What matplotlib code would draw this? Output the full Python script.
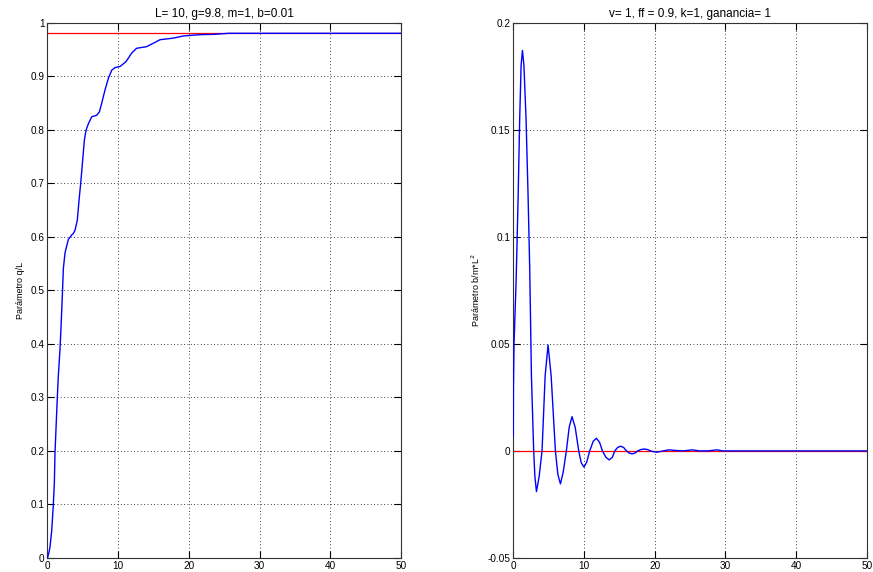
import numpy as np
import matplotlib.pyplot as plt

plt.rcParams['font.family'] = ['Liberation Sans', 'DejaVu Sans']

# q/L response (left panel)
t_q = [0, 0.2, 0.35, 0.59, 0.82, 0.97, 1.06, 1.2, 1.39, 1.53, 1.77, 1.91, 2.1, 2.24,
       2.48, 2.95, 3.4, 3.65, 3.89, 4.22, 4.46, 4.69, 4.97, 5.21, 5.45, 5.78, 6.25,
       6.96, 7.33, 7.66, 8.13, 8.61, 9.08, 9.55, 10.26, 11.1, 11.9, 12.6, 14.0, 15.2,
       15.9, 17.8, 19.2, 21.6, 23.5, 25.6, 50]
q = [0, 0.01, 0.02, 0.05, 0.098, 0.14, 0.196, 0.24, 0.30, 0.34, 0.39, 0.43, 0.49, 0.54,
     0.57, 0.595, 0.603, 0.606, 0.612, 0.631, 0.668, 0.699, 0.742, 0.78, 0.799, 0.811,
     0.824, 0.827, 0.833, 0.849, 0.874, 0.896, 0.911, 0.916, 0.918, 0.927, 0.943, 0.952,
     0.955, 0.963, 0.968, 0.971, 0.975, 0.9775, 0.978, 0.98, 0.98]
q_ref = 0.98

# b/m*L^2 response (right panel)
t_b = [0, 0.02, 0.1, 0.4, 0.67, 0.9, 1.1, 1.29, 1.5, 1.8, 2.08, 2.32, 2.56, 2.88, 3.05,
       3.27, 3.65, 4.06, 4.5, 4.91, 5.35, 5.95, 6.3, 6.66, 7.05, 7.5, 7.9, 8.3, 8.75,
       9.25, 9.6, 10.0, 10.4, 10.8, 11.3, 11.75, 12.2, 12.6, 13.1, 13.55, 14.0, 14.35,
       14.75, 15.15, 15.6, 16.0, 16.4, 16.8, 17.2, 17.6, 18.0, 18.5, 19.0, 19.4, 19.9,
       20.3, 21.2, 22.0, 23.0, 24.0, 25.3, 26.3, 27.5, 28.8, 29.6, 50]
b = [0.007, 0.03, 0.05, 0.08, 0.117, 0.155, 0.18, 0.187, 0.18, 0.155, 0.12, 0.085,
     0.035, 0.0, -0.012, -0.019, -0.012, 0.0, 0.035, 0.0495, 0.035, 0.0, -0.011,
     -0.0154, -0.01, 0.0, 0.011, 0.016, 0.011, 0.0, -0.0055, -0.0076, -0.005, 0.0,
     0.0045, 0.0059, 0.004, 0.0, -0.003, -0.0042, -0.003, 0.0, 0.0016, 0.0022, 0.0016,
     0.0, -0.001, -0.0014, -0.001, 0.0, 0.0006, 0.0009, 0.0006, 0.0, -0.0004, -0.0006,
     0.0, 0.0005, 0.0002, 0.0, 0.0005, 0.0, 0.0, 0.0005, 0.0, 0.0]
b_ref = 0.0

xticks = [0, 10, 20, 30, 40, 50]

fig = plt.figure(figsize=(8.73, 5.72), dpi=100)
ax1 = fig.add_axes([0.0544, 0.0245, 0.405, 0.936])
ax2 = fig.add_axes([0.588, 0.0245, 0.405, 0.936])

panels = [
    (ax1, t_q, q, q_ref, 'L= 10, g=9.8, m=1, b=0.01', 'Parámetro q/L',
     (0, 1), np.round(np.arange(0, 1.01, 0.1), 2),
     ['0', '0.1', '0.2', '0.3', '0.4', '0.5', '0.6', '0.7', '0.8', '0.9', '1']),
    (ax2, t_b, b, b_ref, 'v= 1, ff = 0.9, k=1, ganancia= 1', 'Parámetro b/m*L$^2$',
     (-0.05, 0.2), [-0.05, 0, 0.05, 0.1, 0.15, 0.2],
     ['-0.05', '0', '0.05', '0.1', '0.15', '0.2']),
]

for ax, t, y, ref, title, ylab, ylim, yt, ytl in panels:
    ax.axhline(ref, color='#ff0000', lw=0.9, zorder=2)
    ax.plot(t, y, color='#0000ff', lw=1.0, zorder=3)
    ax.set_xlim(0, 50)
    ax.set_ylim(*ylim)
    ax.set_xticks(xticks)
    ax.set_yticks(yt)
    ax.set_yticklabels(ytl)
    ax.grid(True, color='black', linestyle=(0, (1, 3)), linewidth=0.6)
    ax.tick_params(direction='in', top=True, right=True, labelsize=7.2,
                   length=5, width=0.8, pad=2)
    for s in ax.spines.values():
        s.set_linewidth(0.8)
        s.set_color('#333333')
    ax.set_title(title, fontsize=8.5, pad=4)
    ax.set_ylabel(ylab, fontsize=6.5, labelpad=4)

fig.savefig('out.png', dpi=100)
